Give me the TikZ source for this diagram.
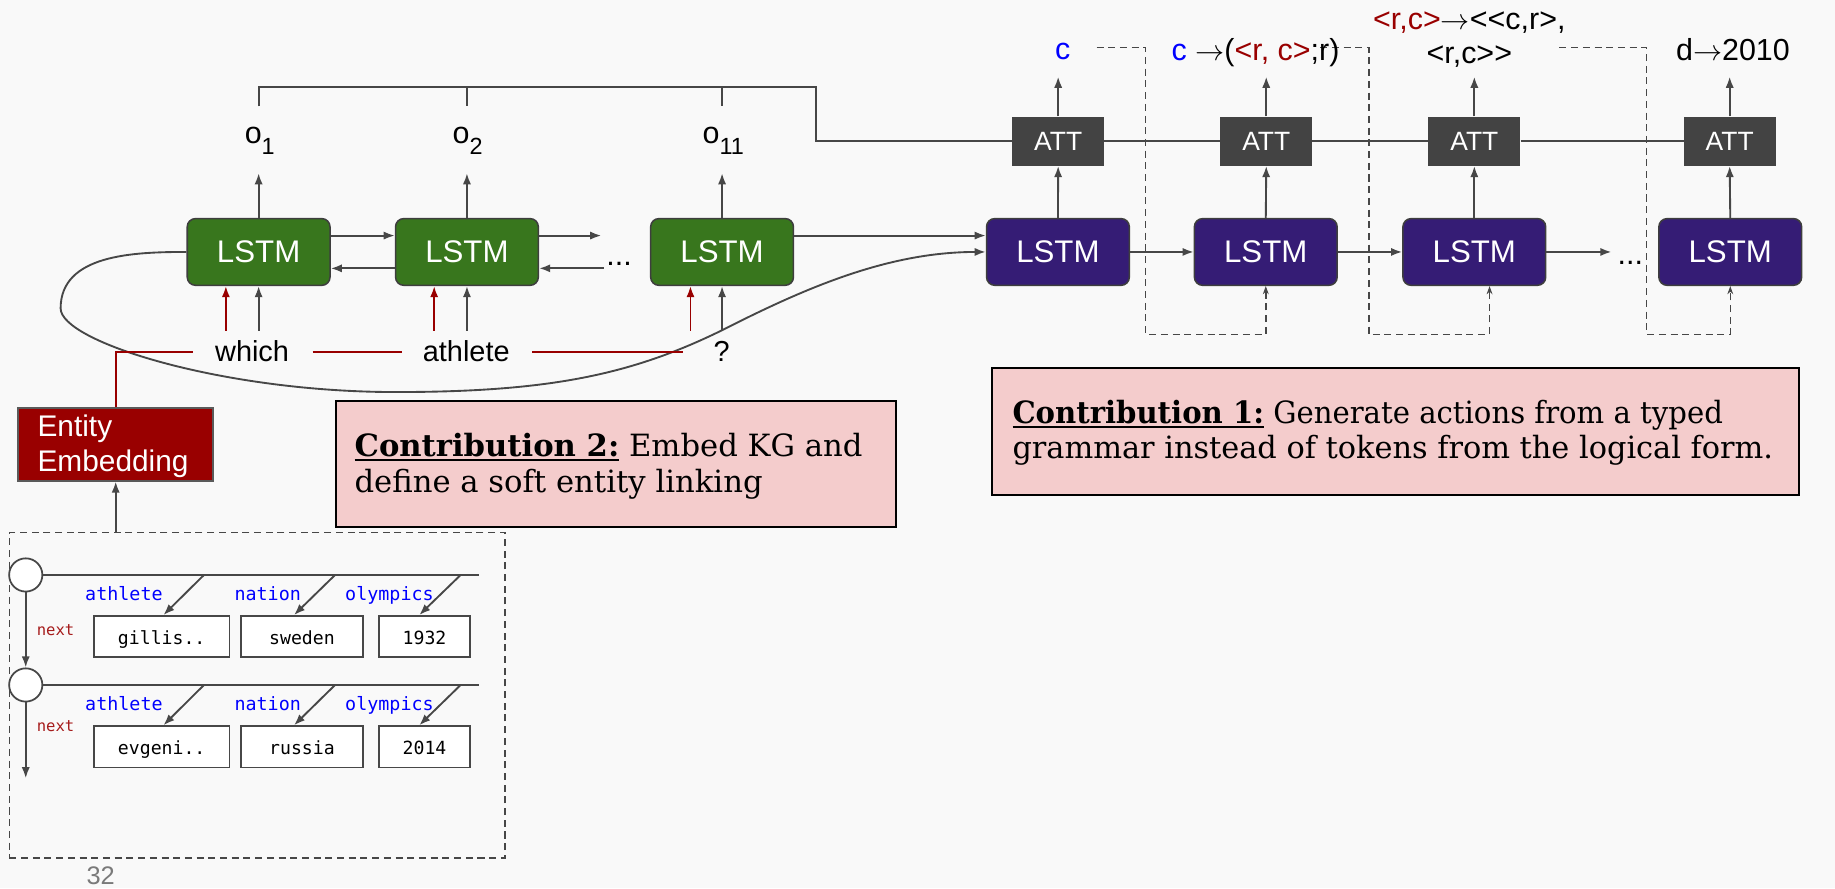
\documentclass[tikz,border=0pt]{standalone}
\usepackage{fontspec}
\setmainfont{Liberation Sans}
\setmonofont{DejaVu Sans Mono}
\newfontfamily\notefont{DejaVu Serif}
\usetikzlibrary{arrows.meta}

\newcommand{\fsz}[1]{\fontsize{#1}{#1}\selectfont}
\newcommand{\ulbox}[1]{\setbox0\hbox{#1}\rlap{\rule[-4.3pt]{\wd0}{1.8pt}}\box0\relax}
\newcommand{\toarrow}{\ensuremath{\rightarrow}}

\definecolor{bg}{HTML}{F9F9F9}
\definecolor{lstmgreen}{HTML}{38761D}
\definecolor{lstmpurple}{HTML}{351C75}
\definecolor{attgray}{HTML}{434343}
\definecolor{darkred}{HTML}{990000}
\definecolor{wirecol}{HTML}{474747}
\definecolor{celledge}{HTML}{3E3E3E}
\definecolor{entedge}{HTML}{5A5A5A}
\definecolor{notepink}{HTML}{F4CCCC}
\definecolor{kgblue}{HTML}{0000FF}
\definecolor{nextred}{HTML}{A61C1C}
\definecolor{pagegray}{HTML}{7A7A7A}

\begin{document}
\begin{tikzpicture}[x=1pt, y=-1pt,
  conn/.style={draw=wirecol, line width=1.6pt},
  arr/.style={conn, -{Latex[length=9.5pt,width=7pt]}},
  redln/.style={draw=darkred, line width=1.6pt},
  redarr/.style={redln, -{Latex[length=9.5pt,width=7pt]}},
  dashln/.style={draw=wirecol, line width=1.3pt, dash pattern=on 6pt off 4pt},
  dasharr/.style={dashln, -{Stealth[length=7pt,width=5pt]}},
  cell/.style={rounded corners=7pt, draw=celledge, line width=1.3pt,
    minimum width=122pt, minimum height=57pt, inner sep=0pt,
    text=white, font=\fsz{26.7}},
  enc/.style={cell, fill=lstmgreen},
  dec/.style={cell, fill=lstmpurple},
  attn/.style={fill=attgray, minimum width=78.5pt, minimum height=42pt,
    inner sep=0pt, text=white, font=\fsz{22.6}},
  lbl/.style={font=\fsz{26}, inner sep=0pt},
  word/.style={font=\fsz{24.7}, inner sep=0pt, anchor=base},
  kglbl/.style={font=\ttfamily\fsz{15.7}, text=kgblue, inner sep=0pt, anchor=base west},
  nextlbl/.style={font=\ttfamily\fsz{13.3}, text=nextred, inner sep=0pt, anchor=base west},
  val/.style={draw=wirecol, line width=1.5pt, fill=white, font=\ttfamily\fsz{15.5},
    inner sep=0pt, text height=13pt, text depth=0pt, minimum height=35.4pt},
  kgnode/.style={circle, draw=wirecol, line width=1.5pt, fill=white,
    minimum size=28.4pt, inner sep=0pt},
  note/.style={draw=black, line width=1.8pt, fill=notepink, inner sep=0pt},
  notetxt/.style={font=\notefont\fsz{26.2}, inner sep=0pt, anchor=base west},
  enttxt/.style={font=\fsz{25.5}, text=white, inner sep=0pt, anchor=base west},
]

% canvas
\fill[bg] (0,0) rectangle (1568,759);
\useasboundingbox (0,0) rectangle (1568,759);

% ---------- encoder ----------
\node[enc] (g1) at (221,215.3) {LSTM};
\node[enc] (g2) at (399,215.3) {LSTM};
\node[enc] (g3) at (617,215.3) {LSTM};

% ---------- decoder ----------
\node[dec] (p1) at (904,215.3) {LSTM};
\node[dec] (p2) at (1081.6,215.3) {LSTM};
\node[dec] (p3) at (1259.8,215.3) {LSTM};
\node[dec] (p4) at (1478.5,215.3) {LSTM};

\node[attn] (a1) at (904.2,120.65) {ATT};
\node[attn] (a2) at (1082,120.65) {ATT};
\node[attn] (a3) at (1259.8,120.65) {ATT};
\node[attn] (a4) at (1478,120.65) {ATT};

% helper rows
\coordinate (otip) at (0,148);
\coordinate (ttip) at (0,65.5);
\coordinate (brk) at (697,74.6);
\coordinate (tickend) at (0,91);
\coordinate (inrow) at (0,282.6);
\coordinate (rl) at (0,300.8);

% encoder outputs
\node[lbl, anchor=base west] (o1) at (209,122.5) {o\raisebox{-9.5pt}{\fsz{20}1}};
\node[lbl, anchor=base west] (o2) at (386.6,122.5) {o\raisebox{-9.5pt}{\fsz{20}2}};
\node[lbl, anchor=base west] (o3) at (600.2,122.5) {o\raisebox{-9.5pt}{\fsz{20}11}};

\draw[arr] (g1.north) -- (g1.north |- otip);
\draw[arr] (g2.north) -- (g2.north |- otip);
\draw[arr] (g3.north) -- (g3.north |- otip);

% memory bracket feeding the attention row
\draw[conn] (g1.north |- tickend) -- (g1.north |- brk) -- (brk) -- (brk |- a1.west) -- (a1.west);
\draw[conn] (g2.north |- brk) -- (g2.north |- tickend);
\draw[conn] (g3.north |- brk) -- (g3.north |- tickend);
\draw[conn] (a1.east) -- (a2.west) (a2.east) -- (a3.west) (a3.east) -- (a4.west);

% decoder vertical flow
\draw[arr] (p1.north) -- (a1.south);
\draw[arr] (p2.north) -- (a2.south);
\draw[arr] (p3.north) -- (a3.south);
\draw[arr] (p4.north) -- (a4.south);
\draw[arr] (a1.north) -- (a1.north |- ttip);
\draw[arr] (a2.north) -- (a2.north |- ttip);
\draw[arr] (a3.north) -- (a3.north |- ttip);
\draw[arr] (a4.north) -- (a4.north |- ttip);

% bidirectional encoder links
\coordinate (fwdend) at (513.8,201.3);
\coordinate (bwdstart) at (516,229.3);
\draw[arr] ([yshift=14pt]g1.east) -- ([yshift=14pt]g2.west);
\draw[arr] ([yshift=-14pt]g2.west) -- ([yshift=-14pt]g1.east);
\draw[arr] ([yshift=14pt]g2.east) -- (fwdend);
\draw[arr] (bwdstart) -- ([yshift=-14pt]g2.east);
\node[lbl, anchor=base west] (edots) at (518,226.6) {...};
\draw[arr] ([yshift=14pt]g3.east) -- ([yshift=14pt]p1.west);

% decoder recurrence
\coordinate (decend) at (1377,215.3);
\draw[arr] (p1.east) -- (p2.west);
\draw[arr] (p2.east) -- (p3.west);
\draw[arr] (p3.east) -- (decend);
\node[lbl, anchor=base west] (ddots) at (1382,226.4) {...};

% backward state handed to the decoder
\draw[arr] (g1.west) .. controls (114,215.3) and (51.8,217.5) .. (51.8,263.5)
  .. controls (51.8,292) and (190,335) .. (338,335)
  .. controls (470,335) and (540,320) .. (617.4,282)
  .. controls (690,245) and (760,215.3) .. (p1.west);

% question words
\node[word] (w1) at (215.4,309) {which};
\node[word] (w2) at (398.4,309) {athlete};
\node[word] (w3) at (616.7,309) {?};

\draw[arr] (g1.south |- inrow) -- (g1.south);
\draw[arr] (g2.south |- inrow) -- (g2.south);
\draw[arr] (g3.south |- inrow) -- (g3.south);
\draw[redarr] ([xshift=-28pt]g1.south |- inrow) -- ([xshift=-28pt]g1.south);
\draw[redarr] ([xshift=-28pt]g2.south |- inrow) -- ([xshift=-28pt]g2.south);
\draw[redarr] ([xshift=-27pt]g3.south |- inrow) -- ([xshift=-27pt]g3.south);

% entity embedding
\node[fill=darkred, draw=entedge, line width=1.5pt, minimum width=166.3pt,
  minimum height=61.9pt, inner sep=0pt] (ent) at (98.85,379.75) {};
\node[enttxt] (entA) at (31.9,373) {Entity};
\node[enttxt] (entB) at (31.9,403) {Embedding};

\draw[redln] (ent.north) |- ([xshift=-19pt]w1.west |- rl);
\draw[redln] ([xshift=20pt]w1.east |- rl) -- ([xshift=-18pt]w2.west |- rl);
\draw[redln] ([xshift=19pt]w2.east |- rl) -- ([xshift=-26pt]w3.west |- rl);

% knowledge graph
\node[draw=wirecol, line width=1.3pt, dash pattern=on 6pt off 4pt,
  minimum width=423.5pt, minimum height=278pt, inner sep=0pt] (kg) at (219.75,594) {};
\draw[arr] (kg.north -| ent.south) -- (ent.south);

\node[kgnode] (n1) at (22,491.3) {};
\node[kgnode] (n2) at (22,585.3) {};
\coordinate (rowend) at (409,0);
\coordinate (kgend) at (0,665);
\draw[conn] (n1.east) -- (n1.east -| rowend);
\draw[conn] (n2.east) -- (n2.east -| rowend);
\draw[arr] (n1.south) -- (n2.north);
\draw[arr] (n2.south) -- (n2.south |- kgend);

\node[nextlbl] (nx1) at (31.3,543.2) {next};
\node[nextlbl] (nx2) at (31.3,625.2) {next};

\node[kglbl] (k11) at (72.6,513.3) {athlete};
\node[kglbl] (k12) at (200.2,513.3) {nation};
\node[kglbl] (k13) at (294.8,513.3) {olympics};
\node[kglbl] (k21) at (72.6,607.5) {athlete};
\node[kglbl] (k22) at (200.2,607.5) {nation};
\node[kglbl] (k23) at (294.8,607.5) {olympics};

\node[val, minimum width=115.7pt] (v11) at (138.15,544) {gillis..};
\node[val, minimum width=103.7pt] (v12) at (258.05,544) {sweden};
\node[val, minimum width=77.7pt]  (v13) at (362.75,544) {1932};
\node[val, minimum width=115.7pt] (v21) at (138.15,638.2) {evgeni..};
\node[val, minimum width=103.7pt] (v22) at (258.05,638.2) {russia};
\node[val, minimum width=77.7pt]  (v23) at (362.75,638.2) {2014};

\coordinate (s11) at (174.3,491.3);
\coordinate (s12) at (286.3,491.3);
\coordinate (s13) at (393.6,491.3);
\coordinate (s21) at (174.3,585.3);
\coordinate (s22) at (286.3,585.3);
\coordinate (s23) at (393.6,585.3);
\draw[arr] (s11) -- ([xshift=1.5pt]v11.north);
\draw[arr] (s12) -- ([xshift=-6.8pt]v12.north);
\draw[arr] (s13) -- ([xshift=-4.5pt]v13.north);
\draw[arr] (s21) -- ([xshift=1.5pt]v21.north);
\draw[arr] (s22) -- ([xshift=-6.8pt]v22.north);
\draw[arr] (s23) -- ([xshift=-4.5pt]v23.north);

% decoded actions fed back into the next step
\coordinate (f1s) at (937,40.7);
\coordinate (f1v) at (979,285.7);
\coordinate (f2s) at (1128,40.7);
\coordinate (f2v) at (1169.6,285.7);
\coordinate (f3s) at (1332.5,40.7);
\coordinate (f3v) at (1407,285.7);
\draw[dasharr] (f1s) -| (f1v) -| (p2.south);
\draw[dasharr] (f2s) -| (f2v) -| ([xshift=13pt]p3.south);
\draw[dasharr] (f3s) -| (f3v) -| (p4.south);

\node[lbl, anchor=base, text=kgblue] (y1) at (908,51) {c};
\node[lbl, anchor=base west] (y2) at (1001,51.3)
  {\textcolor{kgblue}{c} \toarrow(\textcolor{darkred}{<r, c>};r)};
\node[lbl, anchor=base] (y3a) at (1255.5,25.6)
  {\textcolor{darkred}{<r,c>}\toarrow<{}<c,r>,};
\node[lbl, anchor=base] (y3b) at (1255.5,54.1) {<r,c>{}>};
\node[lbl, anchor=base west] (y4) at (1432,51.3) {d\toarrow2010};

% contribution notes
\node[note, minimum width=478.6pt, minimum height=107.6pt] (c2) at (526.3,396.2) {};
\node[notetxt] (c2a) at (302.8,390) {\ulbox{\bfseries Contribution 2:} Embed KG and};
\node[notetxt] (c2b) at (302.8,421) {define a soft entity linking};

\node[note, minimum width=689.4pt, minimum height=108.3pt] (c1) at (1192.3,368.85) {};
\node[notetxt] (c1a) at (865,361.7)
  {\scalebox{0.95}[1]{\ulbox{\bfseries Contribution 1:} Generate actions from a typed}};
\node[notetxt] (c1b) at (865,392)
  {\scalebox{0.99}[1]{grammar instead of tokens from the logical form.}};

% slide number
\node[font=\fsz{21.7}, text=pagegray, inner sep=0pt, anchor=base] (pg) at (86,756) {32};

\end{tikzpicture}
\end{document}
